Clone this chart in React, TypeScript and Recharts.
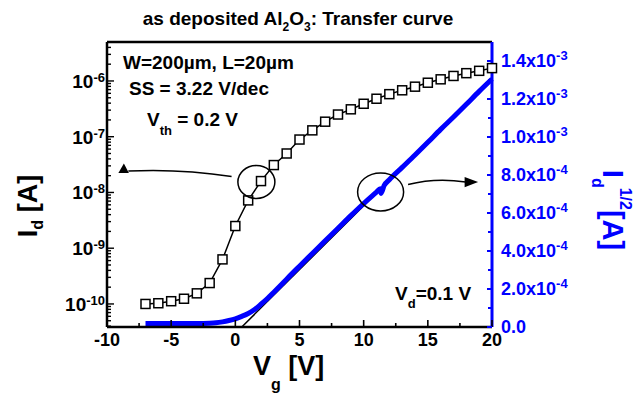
import { Customized, Line, LineChart, ReferenceDot, XAxis, YAxis } from 'recharts'

const FONT = '"Liberation Sans", Arial, Helvetica, sans-serif'
const BLUE = '#0000ff'

// I_d (squares), log axis
const vgSquares = [-7, -6, -5, -4, -3, -2, -1, 0, 1, 2, 3, 4, 5, 6, 7, 8, 9, 10, 11, 12, 13, 14, 15, 16, 17, 18, 19, 20]
const idSquares = [
  1.0e-10, 1.03e-10, 1.12e-10, 1.24e-10, 1.55e-10, 2.37e-10, 6.3e-10, 2.5e-9, 7.2e-9, 1.6e-8, 3.1e-8, 5.0e-8, 8.9e-8,
  1.3e-7, 1.86e-7, 2.5e-7, 3.1e-7, 3.9e-7, 4.8e-7, 5.8e-7, 6.8e-7, 7.9e-7, 9.3e-7, 1.07e-6, 1.23e-6, 1.38e-6, 1.52e-6,
  1.7e-6,
]

// I_d^1/2 (blue), linear axis
const vgSqrt = [
  -7, -6, -5, -4, -3, -2, -1.5, -1, -0.5, 0, 0.5, 1, 1.5, 2, 2.5, 3, 3.5, 4, 5, 6, 7, 8, 9, 10, 11, 11.3, 11.35, 11.6, 12,
  13, 14, 15, 16, 17, 18, 19, 20,
]
const sqrtId = [
  1.8e-5, 1.8e-5, 1.8e-5, 1.9e-5, 1.9e-5, 2.0e-5, 2.2e-5, 2.7e-5, 3.4e-5, 4.3e-5, 5.6e-5, 7.1e-5, 9.2e-5, 1.2e-4, 1.5e-4,
  1.83e-4, 2.17e-4, 2.52e-4, 3.2e-4, 3.87e-4, 4.54e-4, 5.2e-4, 5.86e-4, 6.5e-4, 7.1e-4, 7.28e-4, 7.03e-4, 7.45e-4,
  7.75e-4, 8.4e-4, 9.05e-4, 9.72e-4, 1.04e-3, 1.105e-3, 1.172e-3, 1.24e-3, 1.305e-3,
]

// linear fit for V_th
const fitVg = [0.5, 20]
const fitSqrt = [0, 1.31e-3]

const xTicks = [-10, -7.5, -5, -2.5, 0, 2.5, 5, 7.5, 10, 12.5, 15, 17.5, 20]
const leftDecades = [1e-10, 1e-9, 1e-8, 1e-7, 1e-6]
const leftExp = ['-10', '-9', '-8', '-7', '-6']
const rightMajor = [0, 2e-4, 4e-4, 6e-4, 8e-4, 1.0e-3, 1.2e-3, 1.4e-3]
const rightMant = ['0.0', '2.0', '4.0', '6.0', '8.0', '1.0', '1.2', '1.4']
const rightExp = ['', '-4', '-4', '-4', '-4', '-3', '-3', '-3']
const rightMinor = [1e-4, 3e-4, 5e-4, 7e-4, 9e-4, 1.1e-3, 1.3e-3]

const LEFT_DOMAIN = [3.86e-11, 5.0e-6]
const RIGHT_DOMAIN = [0, 1.5e-3]

const squareData = vgSquares.map((x, i) => ({ x, y: idSquares[i] }))
const sqrtData = vgSqrt.map((x, i) => ({ x, y: sqrtId[i] }))
const fitData = fitVg.map((x, i) => ({ x, y: fitSqrt[i] }))

const leftTicks: number[] = []
leftDecades.concat([1e-11]).forEach((d) => {
  for (let k = 1; k <= 9; k++) {
    const v = d * k
    if (v >= LEFT_DOMAIN[0] && v <= LEFT_DOMAIN[1]) leftTicks.push(v)
  }
})
leftTicks.sort((a, b) => a - b)

const rightTicks = [...rightMajor, ...rightMinor].sort((a, b) => a - b)

function BottomTick(props: any) {
  const { x, y, payload } = props
  const major = payload.value % 5 === 0
  return (
    <g>
      <line x1={x} x2={x} y1={y} y2={y - (major ? 7 : 4)} stroke="#000" strokeWidth={1.6} />
      {major ? (
        <text x={x} y={y + 19} textAnchor="middle" fontFamily={FONT} fontWeight="bold" fontSize={18} fill="#000">
          {payload.value}
        </text>
      ) : null}
    </g>
  )
}

function TopTick(props: any) {
  const { x, y, payload } = props
  const major = payload.value % 5 === 0
  return <line x1={x} x2={x} y1={y} y2={y + (major ? 5 : 4)} stroke="#000" strokeWidth={1.6} />
}

function LeftTick(props: any) {
  const { x, y, payload } = props
  const idx = leftDecades.findIndex((d) => Math.abs(d - payload.value) / d < 1e-6)
  const major = idx >= 0
  return (
    <g>
      <line x1={x} x2={x + (major ? 7 : 4)} y1={y} y2={y} stroke="#000" strokeWidth={1.4} />
      {major ? (
        <text x={x - 2} y={y + 7} textAnchor="end" fontFamily={FONT} fontWeight="bold" fontSize={19} fill="#000">
          <tspan>10</tspan>
          <tspan dy={-6} fontSize={13}>
            {leftExp[idx]}
          </tspan>
        </text>
      ) : null}
    </g>
  )
}

function RightTick(props: any) {
  const { x, y, payload } = props
  const idx = rightMajor.findIndex((d) => Math.abs(d - payload.value) < 1e-9)
  const major = idx >= 0
  return (
    <g>
      <line x1={x} x2={x - (major ? 5 : 4)} y1={y} y2={y} stroke={BLUE} strokeWidth={2} />
      {major ? (
        <text x={x + 9} y={y + 6} fontFamily={FONT} fontWeight="bold" fontSize={18} fill={BLUE}>
          <tspan>{rightExp[idx] ? `${rightMant[idx]}x10` : rightMant[idx]}</tspan>
          {rightExp[idx] ? (
            <tspan dy={-7} fontSize={13}>
              {rightExp[idx]}
            </tspan>
          ) : null}
        </text>
      ) : null}
    </g>
  )
}

function SquareDot(props: any) {
  const { cx, cy, index } = props
  return (
    <rect key={`sq-${index}`} x={cx - 4.5} y={cy - 4.5} width={9} height={9} fill="#fff" stroke="#000" strokeWidth={1.5} />
  )
}

function LeftCallout(props: any) {
  const { cx, cy } = props
  return (
    <g>
      <ellipse cx={cx} cy={cy} rx={18.5} ry={16.5} fill="none" stroke="#000" strokeWidth={1.5} />
      <path
        d={`M ${cx - 24.8} ${cy - 5.5} Q ${cx - 76} ${cy - 13.5} ${cx - 128} ${cy - 11}`}
        fill="none"
        stroke="#000"
        strokeWidth={1.5}
      />
      <polygon
        points={`${cx - 132.5},${cy - 18.5} ${cx - 138},${cy - 9} ${cx - 127.5},${cy - 9}`}
        fill="#000"
      />
    </g>
  )
}

function RightCallout(props: any) {
  const { cx, cy } = props
  return (
    <g>
      <ellipse cx={cx} cy={cy} rx={23} ry={19} fill="none" stroke="#000" strokeWidth={1.5} />
      <path
        d={`M ${cx + 27.5} ${cy - 7.5} Q ${cx + 55} ${cy - 14.5} ${cx + 85} ${cy - 10}`}
        fill="none"
        stroke="#000"
        strokeWidth={1.5}
      />
      <polygon points={`${cx + 97.5},${cy - 9.8} ${cx + 84},${cy - 15} ${cx + 84},${cy - 4.6}`} fill="#000" />
    </g>
  )
}

function Annotations() {
  const t = { fontFamily: FONT, fontWeight: 'bold' as const, fill: '#000' }
  return (
    <g>
      <text x={298} y={25} textAnchor="middle" fontSize={19} {...t}>
        <tspan>as deposited Al</tspan>
        <tspan dy={6} fontSize={12}>2</tspan>
        <tspan dy={-6}>O</tspan>
        <tspan dy={6} fontSize={12}>3</tspan>
        <tspan dy={-6}>: Transfer curve</tspan>
      </text>
      <text x={123} y={69} fontSize={19} {...t}>
        W=200µm, L=20µm
      </text>
      <text x={129} y={95} fontSize={19} {...t}>
        SS = 3.22 V/dec
      </text>
      <text x={147} y={126} fontSize={19} {...t}>
        <tspan>V</tspan>
        <tspan dy={9} fontSize={13}>th</tspan>
        <tspan dy={-9}> = 0.2 V</tspan>
      </text>
      <text x={395} y={300} fontSize={19} {...t}>
        <tspan>V</tspan>
        <tspan dy={8} fontSize={13}>d</tspan>
        <tspan dy={-8}>=0.1 V</tspan>
      </text>
      <text x={253} y={375} fontSize={27} {...t}>
        <tspan>V</tspan>
        <tspan dy={15} fontSize={16}>g</tspan>
        <tspan dy={-15}> [V]</tspan>
      </text>
      <text transform="translate(37, 206) rotate(-90)" textAnchor="middle" fontSize={27} {...t}>
        <tspan>I</tspan>
        <tspan dy={6} fontSize={16}>d</tspan>
        <tspan dy={-6}> [A]</tspan>
      </text>
      <text transform="translate(603, 210) rotate(90)" textAnchor="middle" fontSize={29} {...t} fill={BLUE}>
        <tspan>I</tspan>
        <tspan dy={11} fontSize={16}>d</tspan>
        <tspan dy={-28} fontSize={16}>1/2</tspan>
        <tspan dy={17}>[A]</tspan>
      </text>
    </g>
  )
}

export default function App() {
  return (
    <div style={{ position: 'absolute', left: 0, top: 0, width: 639, height: 394, background: '#fff' }}>
      <LineChart width={639} height={394} margin={{ top: 40, right: 67, bottom: 37, left: 57 }}>
        <XAxis
          xAxisId="top"
          orientation="top"
          type="number"
          dataKey="x"
          domain={[-10, 20]}
          ticks={xTicks}
          interval={0}
          height={2}
          tickSize={0}
          tickMargin={0}
          tick={<TopTick />}
          axisLine={{ stroke: '#000', strokeWidth: 2.5 }}
        />
        <XAxis
          type="number"
          dataKey="x"
          domain={[-10, 20]}
          ticks={xTicks}
          interval={0}
          height={30}
          tickSize={0}
          tickMargin={0}
          tick={<BottomTick />}
          axisLine={{ stroke: '#000', strokeWidth: 2.5 }}
        />
        <YAxis
          yAxisId="left"
          scale="log"
          type="number"
          domain={LEFT_DOMAIN}
          allowDataOverflow
          ticks={leftTicks}
          interval={0}
          width={50}
          tickSize={0}
          tickMargin={0}
          tick={<LeftTick />}
          axisLine={{ stroke: '#000', strokeWidth: 2.5 }}
        />
        <YAxis
          yAxisId="right"
          orientation="right"
          type="number"
          domain={RIGHT_DOMAIN}
          allowDataOverflow
          ticks={rightTicks}
          interval={0}
          width={80}
          tickSize={0}
          tickMargin={0}
          tick={<RightTick />}
          axisLine={{ stroke: BLUE, strokeWidth: 3 }}
        />
        <Line
          yAxisId="right"
          data={fitData}
          dataKey="y"
          type="linear"
          stroke="#000"
          strokeWidth={1.5}
          dot={false}
          isAnimationActive={false}
        />
        <Line
          yAxisId="right"
          data={sqrtData}
          dataKey="y"
          type="monotone"
          stroke={BLUE}
          strokeWidth={5}
          dot={false}
          isAnimationActive={false}
        />
        <Line
          yAxisId="left"
          data={squareData}
          dataKey="y"
          type="linear"
          stroke="#000"
          strokeWidth={1.5}
          dot={<SquareDot />}
          isAnimationActive={false}
        />
        <ReferenceDot yAxisId="left" x={1.64} y={1.54e-8} shape={<LeftCallout />} />
        <ReferenceDot yAxisId="right" x={11.32} y={7.11e-4} shape={<RightCallout />} />
        <Customized component={<Annotations />} />
      </LineChart>
    </div>
  )
}
